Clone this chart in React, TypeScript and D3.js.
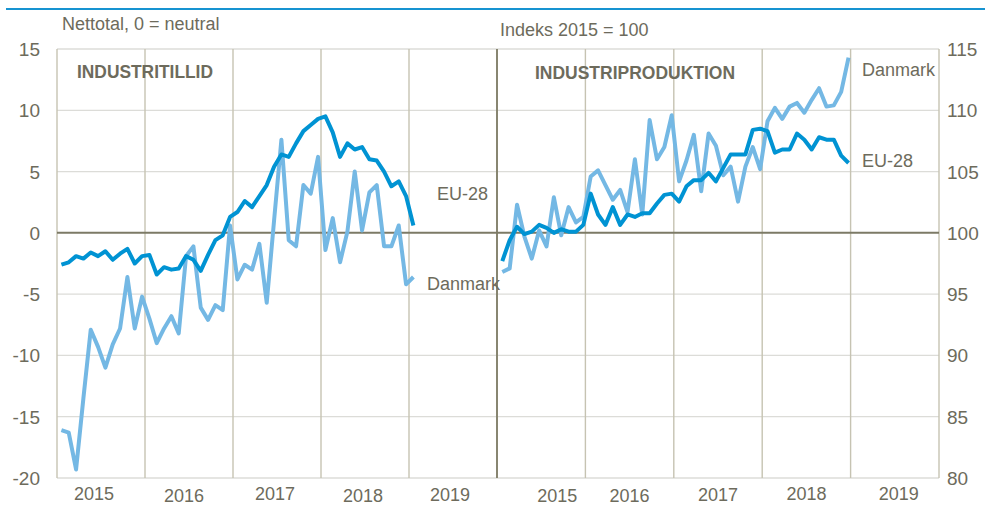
import * as React from "react";
import * as d3 from "d3";

// Industritillid (nettotal), jan 2015 - jan 2019
const tillidEU = [
  -2.6, -2.4, -1.9, -2.1, -1.6, -1.9, -1.5, -2.2, -1.7, -1.3, -2.5, -1.9,
  -1.8, -3.4, -2.8, -3.0, -2.9, -1.9, -2.2, -3.1, -1.8, -0.6, -0.2, 1.3,
  1.7, 2.6, 2.1, 3.0, 3.9, 5.4, 6.4, 6.2, 7.3, 8.3, 8.8, 9.3,
  9.5, 8.2, 6.2, 7.3, 6.8, 7.0, 6.0, 5.9, 5.0, 3.8, 4.2, 3.0,
  0.6,
];
const tillidDK = [
  -16.1, -16.3, -19.3, -13.5, -7.9, -9.3, -11.0, -9.1, -7.8, -3.6, -7.8, -5.2,
  -7.0, -9.0, -7.8, -6.8, -8.2, -1.9, -1.1, -6.1, -7.1, -5.9, -6.3, 0.6,
  -3.8, -2.6, -3.0, -0.9, -5.7, 1.0, 7.6, -0.6, -1.1, 3.9, 3.2, 6.2,
  -1.4, 1.2, -2.4, 0.1, 5.0, 0.2, 3.3, 3.9, -1.1, -1.1, 0.6, -4.2,
  -3.6,
];

// Industriproduktion (indeks 2015 = 100), jan 2015 - dec 2018
const prodEU = [
  97.7, 99.4, 100.5, 99.9, 100.1, 100.65, 100.4, 100.0, 100.3, 100.1, 100.1, 100.65,
  103.2, 101.5, 100.65, 102.1, 100.65, 101.5, 101.3, 101.6, 101.6, 102.4, 103.1, 103.2,
  102.55, 103.8, 104.3, 104.3, 104.9, 104.2, 105.3, 106.4, 106.4, 106.4, 108.4, 108.5,
  108.3, 106.55, 106.8, 106.8, 108.1, 107.6, 106.8, 107.8, 107.6, 107.6, 106.3, 105.7,
];
const prodDK = [
  96.8, 97.1, 102.3, 99.7, 97.9, 100.2, 98.9, 102.9, 99.8, 102.1, 100.85, 101.3,
  104.6, 105.1, 103.9, 102.7, 103.5, 101.7, 106.0, 101.5, 109.2, 106.0, 107.0, 109.6,
  104.2, 105.9, 108.0, 103.4, 108.1, 107.1, 104.7, 105.4, 102.55, 105.4, 107.0, 105.2,
  109.1, 110.2, 109.3, 110.3, 110.6, 109.8, 110.85, 111.8, 110.3, 110.4, 111.5, 114.3,
];

const years = ["2015", "2016", "2017", "2018", "2019"];
const leftTicks = [15, 10, 5, 0, -5, -10, -15, -20];
const rightTicks = [115, 110, 105, 100, 95, 90, 85, 80];

const EU_COLOR = "#0093d3";
const DK_COLOR = "#74b8e4";
const TEXT = "#6d6b5c";
const FONT = "'Liberation Sans Narrow', 'Liberation Sans', Arial, sans-serif";

export default function App() {
  const top = 49, bottom = 478;
  const leftX0 = 57, mid = 497, rightX1 = 939;

  const yL = d3.scaleLinear().domain([-20, 15]).range([bottom, top]);
  const yR = d3.scaleLinear().domain([80, 115]).range([bottom, top]);
  const xL = d3.scaleLinear().domain([0, 60]).range([leftX0, mid]);
  const xR = d3.scaleLinear().domain([0, 60]).range([mid, rightX1]);

  const lineL = d3.line<number>().x((_, i) => xL(i + 0.6)).y(v => yL(v));
  const lineR = d3.line<number>().x((_, i) => xR(i + 0.72)).y(v => yR(v));

  const yearTicks = d3.range(0, 61, 12);
  // small offsets of the year labels, as placed in the source
  const leftYearDx = [-7, -5, -2, -2, -3];
  const leftYearDy = [0, 2, 0, 2, 1];
  const rightYearDx = [16, 0, 0, 0, 4];
  const rightYearDy = [2, 2, 1, 0, 0];

  return (
    <svg width={991} height={508} style={{ position: "absolute", left: 0, top: 0 }}
      fontFamily={FONT}>
      <rect width={991} height={508} fill="#fff" />
      <line x1={6} x2={985} y1={9} y2={9} stroke="#1793d1" strokeWidth={2} />

      {/* horizontal grid */}
      {leftTicks.filter(t => t !== 0).map(t => (
        <line key={"h" + t} x1={leftX0} x2={rightX1} y1={yL(t)} y2={yL(t)}
          stroke="#dcdcd8" strokeWidth={1.3} />
      ))}
      {/* vertical grid */}
      {yearTicks.map(m => (
        <line key={"vl" + m} x1={xL(m)} x2={xL(m)} y1={top} y2={bottom}
          stroke="#c6c3b2" strokeWidth={1.4} />
      ))}
      {yearTicks.map(m => (
        <line key={"vr" + m} x1={xR(m)} x2={xR(m)} y1={top} y2={bottom}
          stroke="#c6c3b2" strokeWidth={1.4} />
      ))}
      <line x1={mid} x2={mid} y1={top} y2={bottom} stroke="#77755f" strokeWidth={1.6} />
      <line x1={leftX0} x2={rightX1} y1={yL(0)} y2={yL(0)} stroke="#7c7a66" strokeWidth={2} />

      {/* series */}
      <path d={lineL(tillidDK) || undefined} fill="none" stroke={DK_COLOR} strokeWidth={4} strokeLinejoin="round" />
      <path d={lineL(tillidEU) || undefined} fill="none" stroke={EU_COLOR} strokeWidth={4} strokeLinejoin="round" />
      <path d={lineR(prodDK) || undefined} fill="none" stroke={DK_COLOR} strokeWidth={4} strokeLinejoin="round" />
      <path d={lineR(prodEU) || undefined} fill="none" stroke={EU_COLOR} strokeWidth={4} strokeLinejoin="round" />

      {/* axis labels */}
      {leftTicks.map(t => (
        <text key={"tl" + t} x={40} y={yL(t)} dy="0.37em" textAnchor="end" fontSize={19} fill={TEXT}>{t}</text>
      ))}
      {rightTicks.map(t => (
        <text key={"tr" + t} x={947} y={yR(t)} dy="0.37em" textAnchor="start" fontSize={19} fill={TEXT}>{t}</text>
      ))}
      {years.map((y, i) => (
        <text key={"yl" + y} x={xL(i * 12 + 6) + leftYearDx[i]} y={500 + leftYearDy[i]}
          textAnchor="middle" fontSize={18} fill={TEXT}>{y}</text>
      ))}
      {years.map((y, i) => (
        <text key={"yr" + y} x={xR(i * 12 + 6) + rightYearDx[i]} y={500 + rightYearDy[i]}
          textAnchor="middle" fontSize={18} fill={TEXT}>{y}</text>
      ))}

      {/* titles */}
      <text x={62} y={30} fontSize={18} fill={TEXT}>Nettotal, 0 = neutral</text>
      <text x={500} y={36} fontSize={18} fill={TEXT}>Indeks 2015 = 100</text>
      <text x={77} y={78} fontSize={18} fontWeight="bold" fill={TEXT}
        textLength={136} lengthAdjust="spacingAndGlyphs">INDUSTRITILLID</text>
      <text x={535} y={79} fontSize={18} fontWeight="bold" fill={TEXT}
        textLength={200} lengthAdjust="spacingAndGlyphs">INDUSTRIPRODUKTION</text>

      {/* series labels */}
      <text x={437} y={200} fontSize={18} fill={TEXT}>EU-28</text>
      <text x={427} y={290} fontSize={18} fill={TEXT}>Danmark</text>
      <text x={862} y={76} fontSize={18} fill={TEXT}>Danmark</text>
      <text x={862} y={167} fontSize={18} fill={TEXT}>EU-28</text>
    </svg>
  );
}
